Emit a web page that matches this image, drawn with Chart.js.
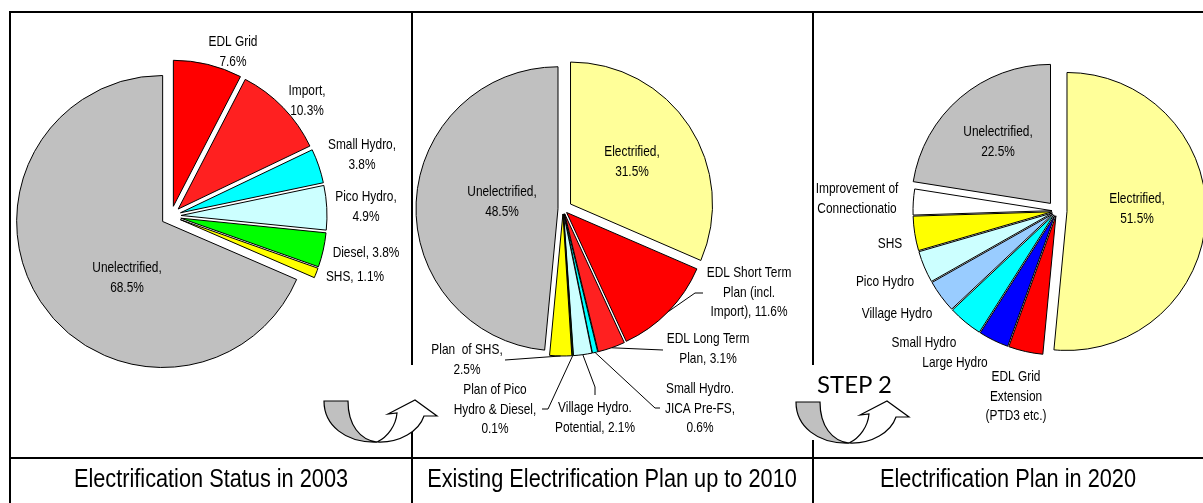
<!DOCTYPE html>
<html>
<head>
<meta charset="utf-8">
<script src="https://cdn.jsdelivr.net/npm/chart.js@4.4.1/dist/chart.umd.min.js"></script>
<style>
html, body { margin: 0; padding: 0; background: #fff; }
#wrap { position: relative; width: 1203px; height: 503px; overflow: hidden; }
canvas { position: absolute; left: 0; top: 0; }
.cap { position: absolute; top: 463px; width: 600px; height: 30px; line-height: 30px; font-family: "Liberation Sans", Arial, sans-serif; font-size: 26.5px; text-align: center; color: #000; white-space: nowrap; transform: scaleX(0.82); transform-origin: 50% 50%; }
#step { position: absolute; left: 817px; top: 368px; font-family: Lato, "Open Sans", sans-serif; font-size: 24px; line-height: 32px; color: #000; }
</style>
</head>
<body>
<div id="wrap">
  <canvas id="pie2003" width="1203" height="503"></canvas>
  <canvas id="pie2010" width="1203" height="503"></canvas>
  <canvas id="pie2020" width="1203" height="503"></canvas>
  <canvas id="frame" width="1203" height="503"></canvas>
  <div class="cap" style="left:-89px">Electrification Status in 2003</div>
  <div class="cap" style="left:312px">Existing Electrification Plan up to 2010</div>
  <div class="cap" style="left:708px">Electrification Plan in 2020</div>
  <div id="step">STEP 2</div>
</div>
<script>
// data: share of households (%)
const status2003Cats = ['EDL Grid', 'Import', 'Small Hydro', 'Pico Hydro', 'Diesel', 'SHS', 'Unelectrified'];
const status2003Vals = [7.6, 10.3, 3.8, 4.9, 3.8, 1.1, 68.5];

const plan2010Cats = ['Electrified', 'EDL Short Term Plan (incl. Import)', 'EDL Long Term Plan', 'Small Hydro. JICA Pre-FS',
  'Village Hydro. Potential', 'Plan of Pico Hydro & Diesel', 'Plan of SHS', 'Unelectrified'];
const plan2010Vals = [31.5, 11.6, 3.1, 0.6, 2.1, 0.1, 2.5, 48.5];

const plan2020Cats = ['Electrified', 'EDL Grid Extension (PTD3 etc.)', 'Large Hydro', 'Small Hydro', 'Village Hydro',
  'Pico Hydro', 'SHS', 'Improvement of Connectionatio', 'Unelectrified'];
const plan2020Vals = [51.5, 4.0, 3.5, 4.0, 3.8, 3.7, 4.0, 3.0, 22.5];

// styles
const colors2003 = ['#FF0000', '#FF2020', '#00FFFF', '#CCFFFF', '#00FF00', '#FFFF00', '#C0C0C0'];
const colors2010 = ['#FFFF99', '#FF0000', '#FF2020', '#00FFFF', '#CCFFFF', '#00FF00', '#FFFF00', '#C0C0C0'];
const colors2020 = ['#FFFF99', '#FF0000', '#0000FF', '#00FFFF', '#99CCFF', '#CCFFFF', '#FFFF00', '#FFFFFF', '#C0C0C0'];

const explode2003 = [10, 10, 10, 10, 10, 10, 10];
const explode2010 = [9, 5, 5, 5, 5, 5, 5, 5];
const explode2020 = [10, 5, 5, 5, 5, 5, 5, 5, 10];

// label layout ({c} = category, {v} = value)
const layout2003 = [
  {lines: ['{c}', '{v}'], x: 233, y: 42},
  {lines: ['{c},', '{v}'], x: 307, y: 91},
  {lines: ['{c},', '{v}'], x: 362, y: 145},
  {lines: ['{c},', '{v}'], x: 366, y: 197},
  {lines: ['{c}, {v}'], x: 366, y: 253},
  {lines: ['{c}, {v}'], x: 355, y: 277},
  {lines: ['{c},', '{v}'], x: 127, y: 268}
];
const layout2010 = [
  {lines: ['{c},', '{v}'], x: 632, y: 152},
  {lines: ['EDL Short Term', 'Plan (incl.', 'Import), {v}'], x: 749, y: 273, leader: [[703, 293], [695, 293]]},
  {lines: ['EDL Long Term', 'Plan, {v}'], x: 708, y: 339, leader: [[663, 350]]},
  {lines: ['Small Hydro.', 'JICA Pre-FS,', '{v}'], x: 700, y: 389, leader: [[660, 408], [655, 408]]},
  {lines: ['Village Hydro.', 'Potential, {v}'], x: 595, y: 408, leader: [[595, 395], [595, 387]]},
  {lines: ['Plan of Pico', 'Hydro & Diesel,', '{v}'], x: 495, y: 390, leader: [[542, 409], [548, 409]]},
  {lines: ['Plan  of SHS,', '{v}'], x: 467, y: 350, leader: [[505, 360]]},
  {lines: ['{c},', '{v}'], x: 502, y: 192}
];
const layout2020 = [
  {lines: ['{c},', '{v}'], x: 1137, y: 199},
  {lines: ['EDL Grid', 'Extension', '(PTD3 etc.)'], x: 1016, y: 377},
  {lines: ['{c}'], x: 955, y: 363},
  {lines: ['{c}'], x: 924, y: 343},
  {lines: ['{c}'], x: 897, y: 314},
  {lines: ['{c}'], x: 885, y: 282},
  {lines: ['{c}'], x: 890, y: 244},
  {lines: ['Improvement of', 'Connectionatio'], x: 857, y: 189},
  {lines: ['{c},', '{v}'], x: 998, y: 132}
];

// exploded slices + labels
function pieDecor(explode, layout, clipLeft) {
  return {
    id: 'pieDecor',
    beforeDatasetDraw(chart, args) {
      const ctx = chart.ctx;
      args.meta.data.forEach((arc, i) => {
        const mid = (arc.startAngle + arc.endAngle) / 2;
        const e = explode[i] || 0;
        ctx.save();
        ctx.translate(Math.cos(mid) * e, Math.sin(mid) * e);
        arc.draw(ctx);
        ctx.restore();
      });
      return false;
    },
    afterDatasetsDraw(chart) {
      const ctx = chart.ctx;
      const meta = chart.getDatasetMeta(0);
      const cats = chart.data.labels;
      const vals = chart.data.datasets[0].data;
      ctx.save();
      if (clipLeft) {
        ctx.beginPath();
        ctx.rect(clipLeft, 0, chart.width - clipLeft, chart.height);
        ctx.clip();
      }
      ctx.font = '14.5px "Liberation Sans", Arial, sans-serif';
      ctx.fillStyle = '#000';
      ctx.strokeStyle = '#000';
      ctx.lineWidth = 1;
      ctx.textAlign = 'center';
      ctx.textBaseline = 'middle';
      layout.forEach((lab, i) => {
        lab.lines.forEach((ln, j) => {
          const txt = ln.replace('{c}', cats[i]).replace('{v}', vals[i].toFixed(1) + '%');
          // narrow face
          ctx.save();
          ctx.translate(lab.x, lab.y + j * 19.5);
          ctx.scale(0.82, 1);
          ctx.fillText(txt, 0, 0);
          ctx.restore();
        });
        if (lab.leader) {
          const arc = meta.data[i];
          const mid = (arc.startAngle + arc.endAngle) / 2;
          const r = arc.outerRadius + (explode[i] || 0);
          ctx.beginPath();
          ctx.moveTo(lab.leader[0][0], lab.leader[0][1]);
          lab.leader.slice(1).forEach(p => ctx.lineTo(p[0], p[1]));
          ctx.lineTo(arc.x + Math.cos(mid) * r, arc.y + Math.sin(mid) * r);
          ctx.stroke();
        }
      });
      ctx.restore();
    }
  };
}

function makePie(id, cats, vals, colors, center, radius, decor) {
  const W = 1203, H = 503;
  const padding = {
    left: 2 * center[0] > W ? 2 * center[0] - W : 0,
    right: 2 * center[0] > W ? 0 : W - 2 * center[0],
    top: 2 * center[1] > H ? 2 * center[1] - H : 0,
    bottom: 2 * center[1] > H ? 0 : H - 2 * center[1]
  };
  return new Chart(document.getElementById(id), {
    type: 'pie',
    data: {
      labels: cats,
      datasets: [{
        data: vals,
        backgroundColor: colors,
        borderColor: '#000',
        borderWidth: 1,
        radius: radius
      }]
    },
    options: {
      responsive: false,
      animation: false,
      events: [],
      radius: radius,
      layout: { padding: padding },
      plugins: { legend: { display: false }, tooltip: { enabled: false } }
    },
    plugins: [decor]
  });
}

makePie('pie2003', status2003Cats, status2003Vals, colors2003, [171, 216], 146, pieDecor(explode2003, layout2003));
makePie('pie2010', plan2010Cats, plan2010Vals, colors2010, [563, 209], 142, pieDecor(explode2010, layout2010));
makePie('pie2020', plan2020Cats, plan2020Vals, colors2020, [1057, 211], 139, pieDecor(explode2020, layout2020, 814));

// table frame and arrows
const fc = document.getElementById('frame').getContext('2d');
fc.strokeStyle = '#000';
fc.lineWidth = 2;
function seg(x1, y1, x2, y2) {
  fc.beginPath(); fc.moveTo(x1, y1); fc.lineTo(x2, y2); fc.stroke();
}
seg(9, 12, 1203, 12);
seg(10, 11, 10, 503);
seg(9, 458, 1203, 458);
seg(412, 12, 412, 365); seg(412, 430, 412, 503);
seg(813, 12, 813, 365); seg(813, 440, 813, 503);

function uturn(ox, oy) {
  fc.save();
  fc.translate(ox, oy);
  fc.lineWidth = 1.2;
  fc.lineJoin = 'miter';
  fc.beginPath();
  fc.moveTo(324, 401); fc.lineTo(348, 401);
  fc.bezierCurveTo(348, 425, 360, 440, 377, 442);
  fc.bezierCurveTo(345, 443, 324, 425, 324, 401);
  fc.closePath();
  fc.fillStyle = '#C0C0C0'; fc.fill(); fc.stroke();
  fc.beginPath();
  fc.moveTo(377, 442);
  fc.bezierCurveTo(388, 437, 396, 425, 397, 413);
  fc.lineTo(388, 414); fc.lineTo(415, 400); fc.lineTo(437, 416); fc.lineTo(424, 416);
  fc.bezierCurveTo(419, 431, 400, 443, 377, 442);
  fc.closePath();
  fc.fillStyle = '#FFFFFF'; fc.fill(); fc.stroke();
  fc.restore();
}
uturn(0, 0);
uturn(472, 1);
</script>
</body>
</html>
